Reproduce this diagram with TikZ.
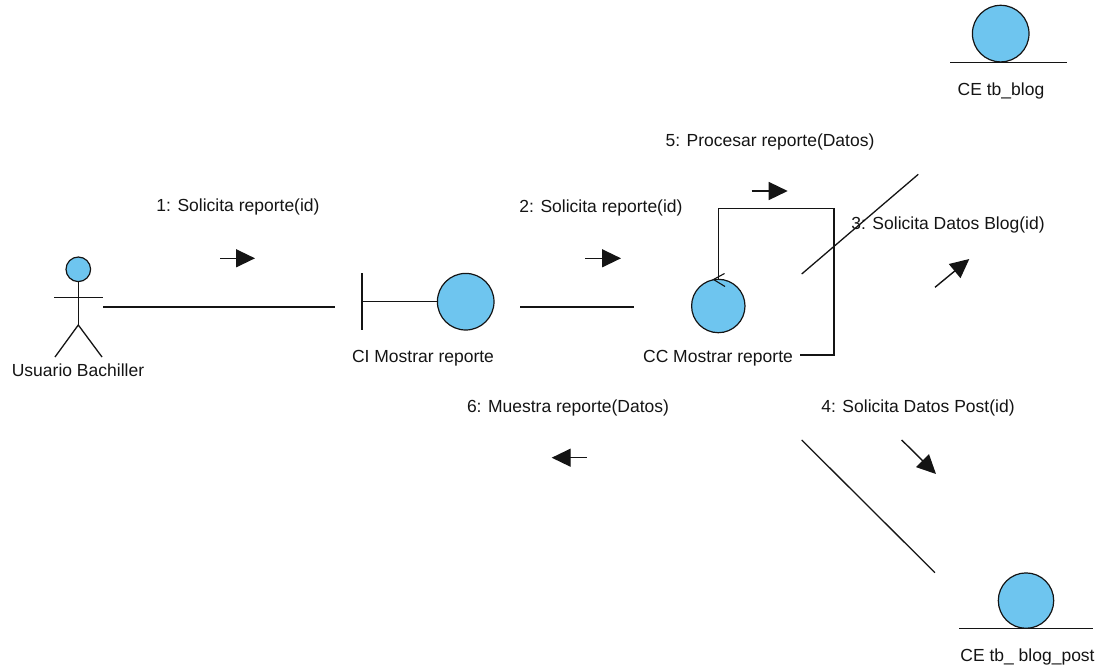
\documentclass[tikz,border=0pt]{standalone}
\usepackage{fontspec}
\setmainfont{Liberation Sans}
\usetikzlibrary{arrows.meta}
\definecolor{objblue}{RGB}{110,197,239}
\definecolor{ink}{RGB}{20,20,20}
\tikzset{
  obj/.style={circle, draw=ink, fill=objblue, line width=1.2pt, inner sep=0pt},
  lbl/.style={inner sep=0pt, text=ink, font=\fontsize{17.5}{20}\selectfont},
  lnk/.style={draw=ink, line width=1.3pt},
  msg/.style={draw=ink, line width=1.4pt, -{Triangle[length=19pt,width=18pt]}},
}
\begin{document}
\begin{tikzpicture}[x=1pt,y=-1pt]
\useasboundingbox (0,0) rectangle (1108,669);
% ---- actor
\node[obj, minimum size=24.6pt] (head) at (78.3,269.3) {};
\coordinate (hip) at (78.3,325);
\coordinate (armL) at (54,297.3);
\coordinate (armR) at (103,297.3);
\coordinate (legL) at (55,357);
\coordinate (legR) at (102,357);
\draw[lnk] (head.south) -- (hip);
\draw[lnk] (armL) -- (armR);
\draw[lnk] (legL) -- (hip) -- (legR);
\node[lbl] (actorlbl) at (78,370) {Usuario Bachiller};
% ---- boundary
\node[obj, minimum size=56.6pt] (bnd) at (465.7,301.7) {};
\coordinate (bbarT) at (362,273);
\coordinate (bbarB) at (362,330);
\coordinate (bbarM) at (362,301.7);
\draw[lnk] (bbarT) -- (bbarB);
\draw[lnk] (bbarM) -- (bnd.west);
\node[lbl] (bndlbl) at (423,358) {CI Mostrar reporte};
% ---- control
\node[obj, minimum size=53.4pt] (ctl) at (718.3,306) {};
\coordinate (ctip) at (713.5,279.5);
\coordinate (carm1) at (724.5,273.5);
\coordinate (carm2) at (725,286.5);
\draw[draw=ink, line width=1.1pt] (carm1) -- (ctip) -- (carm2);
\node[lbl] (ctllbl) at (718,358.3) {CC Mostrar reporte};
% ---- entities
\node[obj, minimum size=56.6pt] (ent1) at (1000.7,33.6) {};
\coordinate (e1l) at (950,62.3);
\coordinate (e1r) at (1067,62.3);
\draw[lnk] (e1l) -- (e1r);
\node[lbl] (ent1lbl) at (1001,91) {CE tb\_blog};
\node[obj, minimum size=55.4pt] (ent2) at (1026,600.6) {};
\coordinate (e2l) at (959,628.3);
\coordinate (e2r) at (1093,628.3);
\draw[lnk] (e2l) -- (e2r);
\node[lbl] (ent2lbl) at (1027.5,656.7) {CE tb\_ blog\_post};
% ---- links
\coordinate (l1a) at (103,307);
\coordinate (l1b) at (335,307);
\draw[lnk] (l1a) -- (l1b);
\coordinate (l2a) at (520,307);
\coordinate (l2b) at (634,307);
\draw[lnk] (l2a) -- (l2b);
\coordinate (loop1) at (718.3,208.3);
\coordinate (loop2) at (834,208.3);
\coordinate (loop3) at (834,355);
\coordinate (loop4) at (800,355);
\draw[lnk] (ctl.north) -- (loop1) -- (loop2) -- (loop3) -- (loop4);
\coordinate (l3a) at (801.7,274);
\coordinate (l3b) at (918.3,174.3);
\draw[lnk] (l3a) -- (l3b);
\coordinate (l4a) at (801.7,440);
\coordinate (l4b) at (935,572.7);
\draw[lnk] (l4a) -- (l4b);
% ---- messages
\coordinate (m1s) at (220,258.3); \coordinate (m1e) at (255,258.3);
\draw[msg] (m1s) -- (m1e);
\node[lbl] (m1lbl) at (238,206.7) {1: Solicita reporte(id)};
\coordinate (m2s) at (585,258.3); \coordinate (m2e) at (621,258.3);
\draw[msg] (m2s) -- (m2e);
\node[lbl] (m2lbl) at (601,208.3) {2: Solicita reporte(id)};
\coordinate (m3s) at (935,287.3); \coordinate (m3e) at (969.3,259);
\draw[msg] (m3s) -- (m3e);
\node[lbl] (m3lbl) at (948,225) {3: Solicita Datos Blog(id)};
\coordinate (m4s) at (901.7,440); \coordinate (m4e) at (936,474);
\draw[msg] (m4s) -- (m4e);
\node[lbl] (m4lbl) at (918,408) {4: Solicita Datos Post(id)};
\coordinate (m5s) at (751.7,191); \coordinate (m5e) at (787.7,191);
\draw[msg] (m5s) -- (m5e);
\node[lbl] (m5lbl) at (770,141.7) {5: Procesar reporte(Datos)};
\coordinate (m6s) at (586.7,457.7); \coordinate (m6e) at (551.7,457.7);
\draw[msg] (m6s) -- (m6e);
\node[lbl] (m6lbl) at (568,408.3) {6: Muestra reporte(Datos)};
\end{tikzpicture}
\end{document}
